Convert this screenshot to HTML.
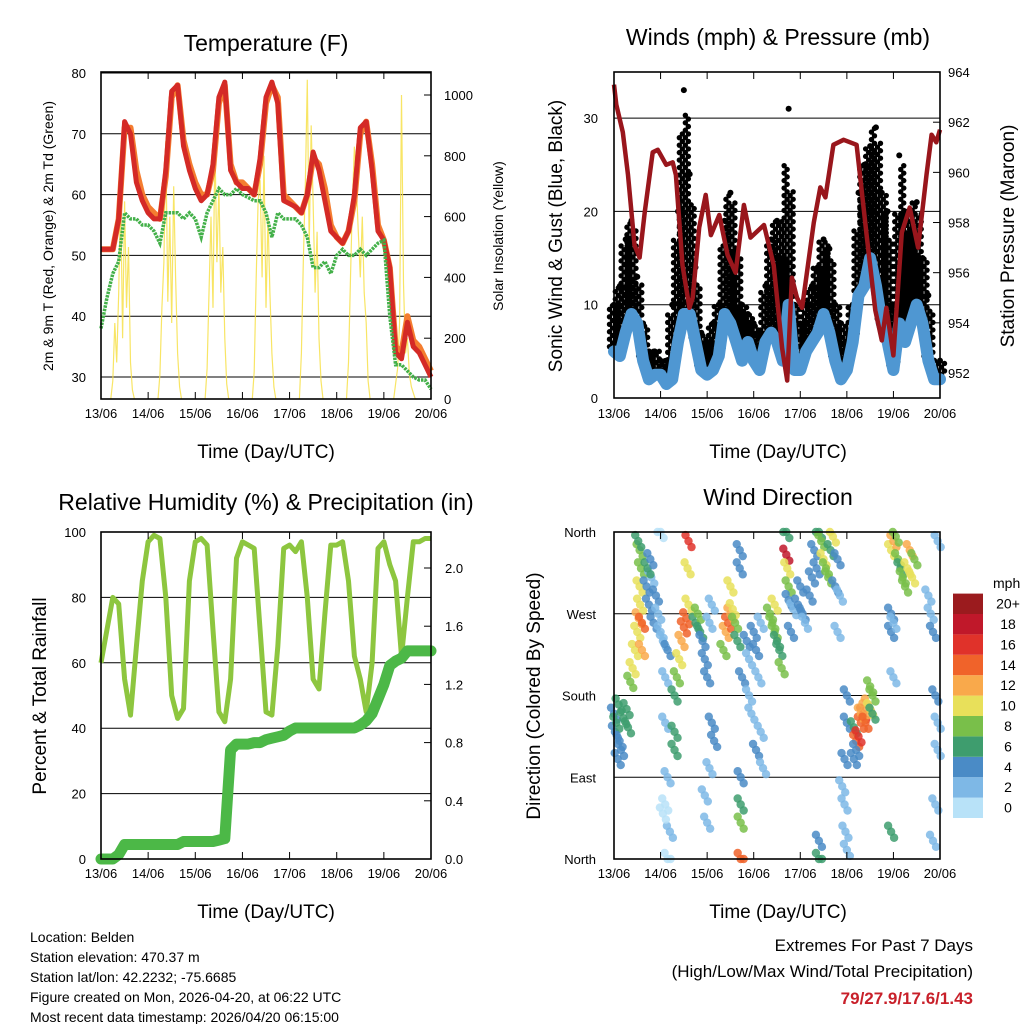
<!DOCTYPE html>
<html><head><meta charset="utf-8"><style>
html,body{margin:0;padding:0;background:#fff;}
svg{display:block;font-family:"Liberation Sans",Arial,sans-serif;}
</style></head><body>
<svg id="svg" width="1024" height="1024" viewBox="0 0 1024 1024" xmlns="http://www.w3.org/2000/svg">
<rect width="1024" height="1024" fill="#fff"/>
<g id="p1"></g>
<g id="p2"></g>
<g id="p3"></g>
<g id="p4"></g>
<text x="266" y="51" font-size="23" text-anchor="middle">Temperature (F)</text>
<text x="778" y="45" font-size="23" text-anchor="middle">Winds (mph) &amp; Pressure (mb)</text>
<text x="266" y="510" font-size="23" text-anchor="middle">Relative Humidity (%) &amp; Precipitation (in)</text>
<text x="778" y="505" font-size="23" text-anchor="middle">Wind Direction</text>
<text x="266" y="458" font-size="19" text-anchor="middle">Time (Day/UTC)</text>
<text x="778" y="458" font-size="19" text-anchor="middle">Time (Day/UTC)</text>
<text x="266" y="918" font-size="19" text-anchor="middle">Time (Day/UTC)</text>
<text x="778" y="918" font-size="19" text-anchor="middle">Time (Day/UTC)</text>
<text transform="translate(53,236) rotate(-90)" font-size="14" text-anchor="middle">2m &amp; 9m T (Red, Orange) &amp; 2m Td (Green)</text>
<text transform="translate(503,236) rotate(-90)" font-size="14" text-anchor="middle">Solar Insolation (Yellow)</text>
<text transform="translate(562,236) rotate(-90)" font-size="19" text-anchor="middle">Sonic Wind &amp; Gust (Blue, Black)</text>
<text transform="translate(1014,236) rotate(-90)" font-size="19" text-anchor="middle">Station Pressure (Maroon)</text>
<text transform="translate(46,696) rotate(-90)" font-size="19" text-anchor="middle">Percent &amp; Total Rainfall</text>
<text transform="translate(540,696) rotate(-90)" font-size="19" text-anchor="middle">Direction (Colored By Speed)</text>
<g font-size="14">
<text x="30" y="942">Location: Belden</text>
<text x="30" y="962">Station elevation: 470.37 m</text>
<text x="30" y="982">Station lat/lon: 42.2232; -75.6685</text>
<text x="30" y="1002">Figure created on Mon, 2026-04-20, at 06:22 UTC</text>
<text x="30" y="1022">Most recent data timestamp: 2026/04/20 06:15:00</text>
</g>
<text x="973" y="951" font-size="17" text-anchor="end">Extremes For Past 7 Days</text>
<text x="973" y="977" font-size="17" text-anchor="end">(High/Low/Max Wind/Total Precipitation)</text>
<text x="973" y="1004" font-size="17" font-weight="bold" fill="#c8202a" text-anchor="end">79/27.9/17.6/1.43</text>
<text x="993" y="588" font-size="14">mph</text>
<g id="cbar"></g>
</svg>
<script>
// ---------- data ----------
const dayLabels=['13/06','14/06','15/06','16/06','17/06','18/06','19/06','20/06'];
const tempTicks=[30,40,50,60,70,80];
const solarTicks=[0,200,400,600,800,1000];
const windTicks=[0,10,20,30];
const presTicks=[952,954,956,958,960,962,964];
const rhTicks=[0,20,40,60,80,100];
const precTicks=[0.0,0.4,0.8,1.2,1.6,2.0];
const dirTicks=['North','East','South','West','North'];
const dirTickDeg=[0,90,180,270,360];
// 3-hourly series (day 0 .. 7)
const temp2m=[51,51,51,56,72,70,62,59, 57,56,56,64,77,78,68,64, 61,59,60,65,76,78.5,64,62, 61,61,60,66,76,78.5,75,59, 58.5,58,57,60,67,64,59,54, 53,52,54,60,71,72,64,54, 52.5,48,34,33,39,35,34,32,30];
const temp9m=[51,51,51,56,71,71,64,60, 58,57,56,63,76,78,69,65, 62,60,60,64,75,78,65,62, 62,61,60,65,75,78,76,60, 59,58,57,60,66,65,61,55, 53,52,54,59,70,72,65,55, 52.5,48,35,34,40,36,35,33,31];
const dew2m=[38,43,47,49,57,56,56,55, 55,54,52,57,57,57,56,57, 56,53,57,59,61,60,60,61, 60,59.5,59,59,57,53,57,56, 56,56,55,53,48,48,49,47, 50,51,50,50,51,50,51,52, 52.5,40,32,32,31,30,29.5,29.5,28];
// hourly solar for hours 5..17 of each day
const solar=[
[0,60,250,120,350,680,200,650,300,500,120,30,0],
[0,80,300,450,850,320,600,250,700,400,150,40,0],
[0,100,350,600,300,850,450,700,350,500,200,50,0],
[0,90,400,650,720,400,800,300,600,350,150,40,0],
[0,150,450,700,1050,500,900,650,350,550,200,60,0],
[0,120,400,650,830,700,550,400,600,350,250,60,0],
[0,50,100,250,1000,380,150,200,80,40,20,0,0]];
const sonic=[5,4.5,7,9,8,4,2,2.5, 2.5,1.5,2,6,9,9,6,3, 2.5,3,4.5,9,8,6,4,6, 4,3,6,7,6,4,10,3, 3,5,6,7,9,7,4,2, 3,6,11,12,15,12,8,6, 3,8,6,8,10,8,4,2,2];
const gust=[10,12,17,19,13,8,5,5, 4,4,10,20,33,24,14,7, 6,8,10,19,22,16,10,9, 8,7,12,17,19,15,31,10, 8,10,12,14,17,16,10,8, 6,10,22,25,27,29,22,20, 10,26,20,18,21,15,11,4,4];
const presDays=[0,0.05,0.19,0.3,0.44,0.55,0.66,0.83,0.94,1.12,1.26,1.33,1.47,1.62,1.69,1.83,1.97,2.08,2.26,2.44,2.61,2.79,2.93,3.22,3.43,3.61,3.72,3.82,3.93,4.04,4.29,4.43,4.54,4.71,4.93,5.21,5.43,5.61,5.75,5.85,6.0,6.18,6.35,6.53,6.71,6.82,6.92,7.0];
const pressure=[963.5,962.7,961.6,959.9,957.1,956.6,958.4,960.8,960.9,960.3,960.4,959.9,956.3,954.6,955.0,957.8,959.1,957.5,958.3,956.7,956.0,958.7,957.4,957.9,956.3,953.0,951.7,955.8,955.0,954.6,958.0,959.4,959.0,961.1,961.3,961.1,957.4,954.5,953.3,954.6,952.7,957.6,958.6,957.0,959.9,961.5,961.2,961.7];
const rh=[60,70,80,78,55,44,65,85, 97,99,98,80,50,43,46,85, 97,98,96,70,45,42,55,92, 97,96,95,70,45,44,65,95, 96,94,97,80,55,52,75,96, 96,97,85,62,55,45,60,95, 97,90,85,62,80,97,97,98,98];
const precip=[0,0,0,0.03,0.1,0.1,0.1,0.1, 0.1,0.1,0.1,0.1,0.1,0.1,0.12,0.12, 0.12,0.12,0.12,0.12,0.13,0.14,0.75,0.79, 0.79,0.79,0.8,0.8,0.82,0.83,0.84,0.85, 0.88,0.9,0.9,0.9,0.9,0.9,0.9,0.9, 0.9,0.9,0.9,0.9,0.92,0.95,1.0,1.1, 1.2,1.33,1.36,1.38,1.43,1.43,1.43,1.43,1.43];
const dirDay=[0,0.02,0.05,0.1,0.12,0.2,0.27,0.3,0.08,0.15, 0.35,0.4,0.45,0.5,0.53,0.56,0.55,0.58,0.55,0.52,0.6,0.6, 0.7,0.75,0.8,0.85,0.9,0.95,1.0,1.05,0.72,0.78,1.0,1.1,1.15, 1.1,1.15,1.1,1.2,1.15,1.05, 1.3,1.35,1.4,1.45,1.5,1.55,1.6,1.58,1.6,1.3,1.3, 1.75,1.8,1.85,1.9,1.95,2.0,2.05,2.1,2.05,1.95,2.0,2.1,2.15, 2.35,2.4,2.45,2.5,2.55,2.6,2.5,2.65,2.7,2.7,2.75,2.72,2.72,2.72,2.72, 2.85,2.9,3.0,3.05,3.1,3.15,2.95,3.05,3.15,3.2,2.9, 3.35,3.4,3.45,3.5,3.55,3.6,3.45,3.7,3.72,3.75,3.7,3.75,3.8,3.85, 3.95,4.0,4.05,4.1,4.2,4.3,4.4,4.35,4.25,4.4,4.4, 4.45,4.5,4.55,4.6,4.65,4.7,4.75,4.8,4.85,4.8, 4.9,4.95,4.97,5.0,5.0,5.0,4.95, 5.15,5.2,5.25,5.3,5.35,5.4,5.45,5.5,5.55,5.5,5.55,5.2,5.15,5.3,5.4, 5.95,6.0,6.05,6.1,6.15,6.2,6.25,6.3,6.35,6.4,6.45,5.95,5.95,6.0,5.95,6.0, 6.75,6.8,6.85,6.9,6.95,6.95,6.9,6.85,6.95];
const dirDeg=[160,140,150,170,130,155,165,145,110,120, 195,210,230,250,265,280,300,320,340,350,260,230, 300,280,310,260,290,270,250,240,320,330,360,200,230, 150,90,60,30,0,50, 180,200,220,240,255,265,280,320,350,140,120, 260,270,250,240,220,200,260,280,100,70,40,150,130, 230,250,260,270,275,260,300,240,320,340,200,60,40,0,90, 240,220,250,230,200,260,160,120,140,100,180, 270,260,250,240,230,210,280,335,320,300,360,285,250,275, 280,300,270,260,290,340,360,320,310,0,20, 350,330,320,310,340,355,300,330,290,250, 80,60,30,10,150,180,110, 145,130,135,150,160,165,170,165,180,190,160,120,110,160,150, 340,350,355,330,320,310,300,320,340,310,330,270,250,260,30,200, 290,270,250,180,150,120,60,20,350];
const dirSpeed=[4,4,5,6,3,5,6,6,4,3, 7,9,10,10,11,10,9,8,7,6,13,12, 4,3,2,3,4,2,1,2,5,3,0,2,3, 1,1,0,1,0,0, 6,7,10,12,14,13,10,9,16,6,5, 6,8,6,4,3,3,2,2,2,1,1,3,4, 8,11,13,12,10,8,9,5,3,4,4,6,8,13,4, 3,2,3,4,2,2,2,3,2,2,1, 7,7,8,6,5,7,9,17,10,7,5,3,3,2, 4,4,3,2,3,4,5,4,4,6,4, 8,9,8,7,6,9,4,3,2,2, 2,1,2,1,4,4,3, 6,14,16,14,15,12,12,10,8,8,6,4,3,12,14, 9,11,8,7,6,7,8,9,12,10,8,4,3,2,6,2, 2,2,3,3,1,2,2,1,2];
const cbarLabels=['0','2','4','6','8','10','12','14','16','18','20+'];
const cbarColors=['#b8e2f8','#7eb8e6','#4a8bc6','#3e9d6e','#79bf4a','#e8e05a','#f9a94b','#f0632a','#e0322a','#c0182a','#9b1b1e'];

// ---------- helpers ----------
const NS='http://www.w3.org/2000/svg';
function mk(parent,tag,attrs){const e=document.createElementNS(NS,tag);for(const k in attrs)e.setAttribute(k,attrs[k]);parent.appendChild(e);return e;}
function txt(parent,x,y,s,anchor,size){const e=mk(parent,'text',{x:x,y:y,'text-anchor':anchor,'font-size':size});e.textContent=s;return e;}
const times3=temp2m.map((_,i)=>i/8);

const L=101,R=431,L2=614,R2=940;
const xA=d=>L+d*(R-L)/7, xB=d=>L2+d*(R2-L2)/7;
const yT=v=>377-(v-30)*6.08, ySol=v=>399-v*0.304;
const yW=v=>398-v*9.33, yP=p=>373-(p-952)*25.08;
const yRH=v=>859-v*3.27, yPr=v=>859-v*145.5;
const yD=d=>859-d*0.9083;
const pts=(xs,ys)=>xs.map((x,i)=>x.toFixed(1)+','+ys[i].toFixed(1)).join(' ');

function frame(g,x0,x1,y0,y1,bottomLabelsY,xf){
  for(let i=0;i<dayLabels.length;i++){
    const x=xf(i);
    const t1=mk(g,'line',{x1:x,x2:x,y1:y0,y2:y0+7,stroke:'#000','stroke-width':1});
    
    
    const t2=mk(g,'line',{x1:x,x2:x,y1:y1,y2:y1-7,stroke:'#000','stroke-width':1});
    
    
    const lb=txt(g,x,bottomLabelsY,dayLabels[i],'middle',13);
    
    
  }
  const r=mk(g,'rect',{x:x0,y:y0,width:x1-x0,height:y1-y0,fill:'none',stroke:'#000','stroke-width':1.6});
  
  
}
function grid(g,x0,x1,y){
  const l=mk(g,'line',{x1:x0,x2:x1,y1:y,y2:y,stroke:'#000','stroke-width':1});
  
  
}

// ---------- panel 1 temperature ----------
const p1=document.getElementById('p1');
tempTicks.forEach(v=>{grid(p1,L,R,yT(v));
  const t=txt(p1,L-15,yT(v)+5,String(v),'end',13);
  
  });
solarTicks.forEach(v=>{
  const t=txt(p1,R+13,ySol(v)+5,String(v),'start',13);
  
  
  const k=mk(p1,'line',{x1:R,x2:R-7,y1:ySol(v),y2:ySol(v),stroke:'#000'});
  
  });
solar.forEach((day,di)=>{
  const xs=[],ys=[];
  day.forEach((v,h)=>{xs.push(xA(di+(5+h)/24));ys.push(ySol(v));});
  const pl=mk(p1,'polyline',{points:pts(xs,ys),fill:'none',stroke:'#f7e04a','stroke-width':1.2,opacity:0.85});
  
  
});
const tx=times3.map(xA);
const o9=mk(p1,'polyline',{points:pts(tx,temp9m.map(yT)),fill:'none',stroke:'#f47d30','stroke-width':6,'stroke-linejoin':'round'});


const r2=mk(p1,'polyline',{points:pts(tx,temp2m.map(yT)),fill:'none',stroke:'#d42a26','stroke-width':5,'stroke-linejoin':'round'});


const dw=mk(p1,'polyline',{points:pts(tx,dew2m.map(yT)),fill:'none',stroke:'#43b049','stroke-width':3.5,'stroke-dasharray':'2.5 1'});


frame(p1,L,R,72,399,418,xA);

// ---------- panel 2 winds ----------
const p2=document.getElementById('p2');
windTicks.forEach(v=>{grid(p2,L2,R2,yW(v));
  const t=txt(p2,L2-16,yW(v)+5,String(v),'end',13);
  
  });
presTicks.forEach(v=>{
  const t=txt(p2,R2+8,yP(v)+5,String(v),'start',13);
  
  
  const k=mk(p2,'line',{x1:R2,x2:R2-7,y1:yP(v),y2:yP(v),stroke:'#000'});
  
  });
const wx=times3.map(xB);
const offs=[-4.5,-1.5,1.5,4.5];
gust.forEach((g,i)=>{
  const prev=i>0?gust[i-1]:g, next=i<gust.length-1?gust[i+1]:g;
  offs.forEach((o,j)=>{
    const top=o<0?(g+prev)/2+ (g-prev)*0.0 : (g+next)/2;
    const lim=Math.max(Math.min(g,top+2),sonic[i]+1);
    for(let v=sonic[i]+0.5+(j%2)*0.4;v<=lim;v+=0.8){
      const c=mk(p2,'circle',{cx:wx[i]+o,cy:yW(v),r:2.7,fill:'#000'});
      
      
    }
  });
  const c=mk(p2,'circle',{cx:wx[i],cy:yW(g),r:3,fill:'#000'});
  
  
});
const sb=mk(p2,'polyline',{points:pts(wx,sonic.map(yW)),fill:'none',stroke:'#4f97d2','stroke-width':12,'stroke-linejoin':'round','stroke-linecap':'round'});


const pl=mk(p2,'polyline',{points:pts(presDays.map(xB),pressure.map(yP)),fill:'none',stroke:'#99161c','stroke-width':4.5,'stroke-linejoin':'round'});


frame(p2,L2,R2,72,398,418,xB);

// ---------- panel 3 humidity ----------
const p3=document.getElementById('p3');
rhTicks.forEach(v=>{grid(p3,L,R,yRH(v));
  const t=txt(p3,L-15,yRH(v)+5,String(v),'end',13);
  
  });
precTicks.forEach(v=>{
  const t=txt(p3,R+14,yPr(v)+5,v.toFixed(1),'start',13);
  
  
  const k=mk(p3,'line',{x1:R,x2:R-7,y1:yPr(v),y2:yPr(v),stroke:'#000'});
  
  });
const rl=mk(p3,'polyline',{points:pts(tx,rh.map(yRH)),fill:'none',stroke:'#8dc63f','stroke-width':5,'stroke-linejoin':'round'});


const prl=mk(p3,'polyline',{points:pts(tx,precip.map(yPr)),fill:'none',stroke:'#4cb847','stroke-width':11,'stroke-linejoin':'round','stroke-linecap':'round'});


frame(p3,L,R,532,859,878,xA);

// ---------- panel 4 direction ----------
const p4=document.getElementById('p4');
dirTickDeg.forEach((d,i)=>{grid(p4,L2,R2,yD(d));
  const t=txt(p4,L2-18,yD(d)+5,dirTicks[i],'end',13);
  
  });
const colorFor=s=>cbarColors[Math.min(10,Math.max(0,Math.round(s/2)))];
const cl=[[0,0],[-3,-6],[3,6]];
dirDay.forEach((d,i)=>{
  cl.forEach(o=>{
    const y=Math.min(859,Math.max(532,yD(dirDeg[i])+o[1]));
    const c=mk(p4,'circle',{cx:xB(d)+o[0],cy:y,r:4.2,fill:colorFor(dirSpeed[i]),opacity:0.85});
    
    
  });
});
frame(p4,L2,R2,532,859,878,xB);

// colorbar
const cb=document.getElementById('cbar');
cbarColors.forEach((c,i)=>{
  const y=818-(i+1)*20.4;
  const r=mk(cb,'rect',{x:953,y:y,width:30,height:20.4,fill:c});
  
  
  const t=txt(cb,1008,y+15,cbarLabels[i],'middle',14);
  
  
});
</script>
</body></html>
